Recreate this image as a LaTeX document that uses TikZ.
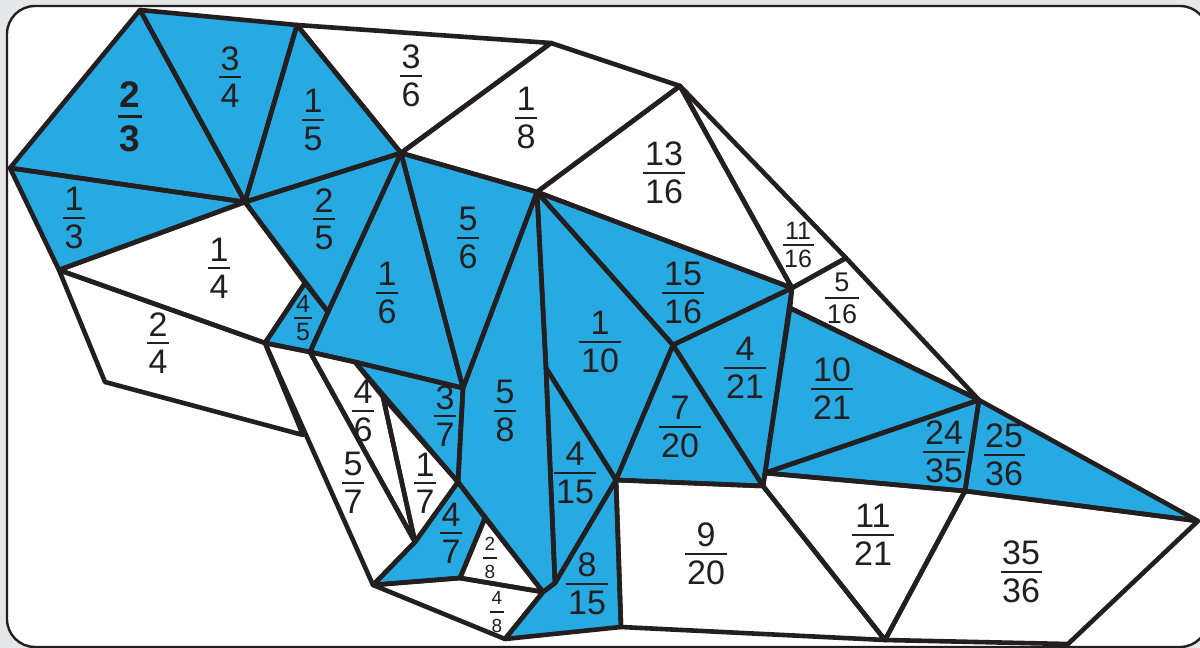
\documentclass[tikz,border=0pt]{standalone}
\usepackage{fontspec}
\setmainfont{Liberation Sans}
\definecolor{puzblue}{HTML}{27A9E1}
\definecolor{ink}{HTML}{231F20}
\definecolor{bggray}{HTML}{E6E7E8}
\newcommand\fgap{3pt}
\newcommand\fbar{1pt}
\newcommand\fr[2]{%
  \setbox0=\hbox{#1}\setbox2=\hbox{#2}%
  \dimen0=\wd0 \ifdim\wd2>\dimen0 \dimen0=\wd2 \fi
  \advance\dimen0 by 1.6pt
  \vbox{\offinterlineskip\halign{\hfil##\hfil\cr
    \box0\cr
    \noalign{\kern\fgap}
    \vrule width\dimen0 height\fbar depth 0pt\cr
    \noalign{\kern\fgap}
    \box2\cr}}}
\begin{document}
\begin{tikzpicture}[x=0.5pt,y=-0.5pt,
  bluecell/.style={fill=puzblue},
  edge/.style={draw=ink, line width=2.3pt, line join=round},
  lab/.style={inner sep=0pt, text=ink, font=\fontsize{17}{17}\selectfont\def\fgap{3pt}\def\fbar{1pt}},
  labs/.style={inner sep=0pt, text=ink, font=\fontsize{12.5}{13}\selectfont\def\fgap{2.4pt}\def\fbar{0.8pt}},
  labsm/.style={inner sep=0pt, text=ink, font=\fontsize{13.5}{14}\selectfont\def\fgap{2.8pt}\def\fbar{0.8pt}},
  labxs/.style={inner sep=0pt, text=ink, font=\fontsize{9.5}{11}\selectfont\def\fgap{3.2pt}\def\fbar{0.7pt}},
  labbold/.style={inner sep=0pt, text=ink, font=\bfseries\fontsize{18.5}{18.5}\selectfont\def\fgap{3.6pt}\def\fbar{1.6pt}}
]
\useasboundingbox (0,0) rectangle (1200,648);
\fill[bggray] (0,0) rectangle (1200,648);
\draw[draw=ink, line width=1.2pt, fill=white, rounded corners=14pt] (7,6) rectangle (1208,647);

% vertices
\coordinate (A) at (140,10);
\coordinate (B) at (297,25);
\coordinate (K) at (551,43);
\coordinate (L) at (680,86);
\coordinate (C) at (10,168);
\coordinate (D) at (245,202);
\coordinate (E) at (401,153);
\coordinate (F) at (59,270);
\coordinate (G) at (305,283);
\coordinate (J) at (328,312);
\coordinate (H) at (265,343);
\coordinate (I) at (310,352);
\coordinate (P1) at (355,362);
\coordinate (P2) at (463,388);
\coordinate (P3) at (383,397);
\coordinate (P6) at (458,482);
\coordinate (P7) at (415,542);
\coordinate (P8) at (460,578);
\coordinate (P9) at (485,518);
\coordinate (Q1) at (303,435);
\coordinate (Q2) at (105,382);
\coordinate (Q3) at (373,585);
\coordinate (M) at (537,192);
\coordinate (P4) at (546,368);
\coordinate (Z1) at (543,592);
\coordinate (Z2) at (555,583);
\coordinate (Y) at (505,639);
\coordinate (X) at (621,627);
\coordinate (W) at (616,480);
\coordinate (V) at (673,345);
\coordinate (N) at (792,288);
\coordinate (N2) at (790,308);
\coordinate (O) at (846,258);
\coordinate (P) at (979,400);
\coordinate (U1) at (765,473);
\coordinate (U2) at (763,486);
\coordinate (T) at (965,491);
\coordinate (Q) at (1198,521);
\coordinate (R) at (1068,644);
\coordinate (S) at (885,640);

% blue fills
\path[bluecell] (A)--(C)--(D)--cycle;
\path[bluecell] (A)--(B)--(D)--cycle;
\path[bluecell] (B)--(E)--(D)--cycle;
\path[bluecell] (C)--(D)--(F)--cycle;
\path[bluecell] (D)--(E)--(J)--cycle;
\path[bluecell] (G)--(H)--(I)--(J)--cycle;
\path[bluecell] (E)--(J)--(I)--(P1)--(P2)--cycle;
\path[bluecell] (E)--(M)--(P2)--cycle;
\path[bluecell] (M)--(P4)--(Z2)--(Z1)--(P6)--(P2)--cycle;
\path[bluecell] (P1)--(P2)--(P6)--cycle;
\path[bluecell] (P6)--(P7)--(Q3)--(P8)--(P9)--cycle;
\path[bluecell] (M)--(V)--(W)--(P4)--cycle;
\path[bluecell] (P4)--(W)--(Z2)--cycle;
\path[bluecell] (Y)--(Z1)--(Z2)--(W)--(X)--cycle;
\path[bluecell] (M)--(N)--(V)--cycle;
\path[bluecell] (N)--(V)--(U2)--(U1)--cycle;
\path[bluecell] (V)--(U2)--(W)--cycle;
\path[bluecell] (N2)--(P)--(U1)--cycle;
\path[bluecell] (U1)--(P)--(T)--cycle;
\path[bluecell] (P)--(Q)--(T)--cycle;

% edges
\draw[edge] (A)--(C)--(D)--cycle;
\draw[edge] (A)--(B)--(D)--cycle;
\draw[edge] (B)--(E)--(D)--cycle;
\draw[edge] (C)--(D)--(F)--cycle;
\draw[edge] (D)--(E)--(J)--cycle;
\draw[edge] (G)--(H)--(I)--(J)--cycle;
\draw[edge] (E)--(J)--(I)--(P1)--(P2)--cycle;
\draw[edge] (E)--(M)--(P2)--cycle;
\draw[edge] (M)--(P4)--(Z2)--(Z1)--(P6)--(P2)--cycle;
\draw[edge] (P1)--(P2)--(P6)--cycle;
\draw[edge] (P6)--(P7)--(Q3)--(P8)--(P9)--cycle;
\draw[edge] (M)--(V)--(W)--(P4)--cycle;
\draw[edge] (P4)--(W)--(Z2)--cycle;
\draw[edge] (Y)--(Z1)--(Z2)--(W)--(X)--cycle;
\draw[edge] (M)--(N)--(V)--cycle;
\draw[edge] (N)--(V)--(U2)--(U1)--cycle;
\draw[edge] (V)--(U2)--(W)--cycle;
\draw[edge] (N2)--(P)--(U1)--cycle;
\draw[edge] (U1)--(P)--(T)--cycle;
\draw[edge] (P)--(Q)--(T)--cycle;
\draw[edge] (B)--(K)--(E)--cycle;
\draw[edge] (K)--(L)--(M)--(E)--cycle;
\draw[edge] (L)--(N)--(M)--cycle;
\draw[edge] (L)--(O)--(N)--cycle;
\draw[edge] (O)--(P)--(N2)--(N)--cycle;
\draw[edge] (D)--(F)--(H)--(G)--cycle;
\draw[edge] (F)--(H)--(Q1)--(Q2)--cycle;
\draw[edge] (H)--(I)--(P7)--(Q3)--cycle;
\draw[edge] (I)--(P1)--(P3)--(P7)--cycle;
\draw[edge] (P3)--(P6)--(P7)--cycle;
\draw[edge] (P9)--(P8)--(Z1)--cycle;
\draw[edge] (Q3)--(P8)--(Z1)--(Y)--cycle;
\draw[edge] (W)--(U2)--(S)--(X)--cycle;
\draw[edge] (U2)--(U1)--(T)--(S)--cycle;
\draw[edge] (T)--(Q)--(R)--(S)--cycle;

% labels
\node[labbold] (t23) at (130,117) {\fr{2}{3}};
\node[lab] (t34) at (230,77) {\fr{3}{4}};
\node[lab] (t15) at (313,120) {\fr{1}{5}};
\node[lab] (t36) at (411,76) {\fr{3}{6}};
\node[lab] (t18) at (526,118) {\fr{1}{8}};
\node[lab] (t1316) at (664,173) {\fr{13}{16}};
\node[lab] (t13) at (74,218) {\fr{1}{3}};
\node[lab] (t14) at (219,268) {\fr{1}{4}};
\node[lab] (t25) at (324,219) {\fr{2}{5}};
\node[lab] (t56) at (468,238) {\fr{5}{6}};
\node[lab] (t16) at (387,293) {\fr{1}{6}};
\node[labs] (t45) at (303,318) {\fr{4}{5}};
\node[lab] (t24) at (158,343) {\fr{2}{4}};
\node[labs] (t1116) at (798,245) {\fr{11}{16}};
\node[labsm] (t516) at (842,298) {\fr{5}{16}};
\node[lab] (t1516) at (683,293) {\fr{15}{16}};
\node[lab] (t110) at (600,342) {\fr{1}{10}};
\node[lab] (t421) at (745,368) {\fr{4}{21}};
\node[lab] (t1021) at (832,389) {\fr{10}{21}};
\node[lab] (t58) at (505,411) {\fr{5}{8}};
\node[lab] (t46) at (363,411) {\fr{4}{6}};
\node[lab] (t37) at (445,416) {\fr{3}{7}};
\node[lab] (t720) at (680,427) {\fr{7}{20}};
\node[lab] (t2435) at (944,452) {\fr{24}{35}};
\node[lab] (t2536) at (1004,455) {\fr{25}{36}};
\node[lab] (t415) at (575,473) {\fr{4}{15}};
\node[lab] (t57) at (353,483) {\fr{5}{7}};
\node[lab] (t17) at (425,483) {\fr{1}{7}};
\node[lab] (t47) at (451,533) {\fr{4}{7}};
\node[labxs] (t28) at (490,558) {\fr{2}{8}};
\node[lab] (t920) at (706,554) {\fr{9}{20}};
\node[lab] (t1121) at (873,535) {\fr{11}{21}};
\node[lab] (t3536) at (1021,572) {\fr{35}{36}};
\node[lab] (t815) at (587,584) {\fr{8}{15}};
\node[labxs] (t48) at (497,612) {\fr{4}{8}};
\end{tikzpicture}
\end{document}
